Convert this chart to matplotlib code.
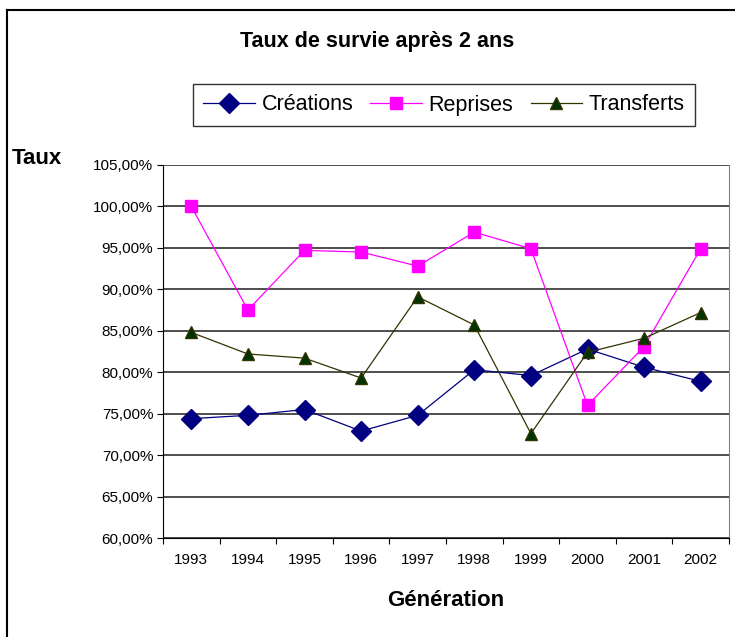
import matplotlib
matplotlib.use("Agg")
import matplotlib.pyplot as plt
from matplotlib.lines import Line2D
from matplotlib.ticker import FuncFormatter, FixedLocator

plt.rcParams['font.family'] = ['Liberation Sans', 'DejaVu Sans']

years = ["1993", "1994", "1995", "1996", "1997", "1998", "1999", "2000", "2001", "2002"]
creations = [74.4, 74.8, 75.5, 72.9, 74.8, 80.3, 79.6, 82.8, 80.6, 78.9]
reprises = [100.0, 87.5, 94.7, 94.5, 92.8, 96.9, 94.9, 76.0, 83.1, 94.9]
transferts = [84.8, 82.2, 81.7, 79.3, 89.1, 85.7, 72.6, 82.4, 84.1, 87.2]

fig = plt.figure(figsize=(7.35, 6.37), dpi=100)
ax = fig.add_axes([163/735, 1-538/637, 566/735, 373/637])

x = list(range(1, len(years) + 1))
ax.plot(x, creations, color="#000080", lw=0.9, marker="D", ms=10,
        mfc="#000080", mec="#000080", label="Créations", zorder=3)
ax.plot(x, reprises, color="#FF00FF", lw=0.9, marker="s", ms=9,
        mfc="#FF00FF", mec="#FF00FF", label="Reprises", zorder=3)
ax.plot(x, transferts, color="#333300", lw=0.9, marker="^", ms=9,
        mfc="#003300", mec="#333300", label="Transferts", zorder=3)

ax.set_xlim(0.5, len(years) + 0.5)
ax.set_ylim(60, 105)
ax.set_yticks([60 + 5*i for i in range(10)])
ax.yaxis.set_major_formatter(FuncFormatter(lambda v, p: ("%.2f%%" % v).replace(".", ",")))
ax.yaxis.grid(True, color="#404040", lw=1.3)
ax.set_axisbelow(True)

ax.xaxis.set_major_locator(FixedLocator([i + 0.5 for i in range(len(years) + 1)]))
ax.xaxis.set_major_formatter(FuncFormatter(lambda v, p: ""))
ax.xaxis.set_minor_locator(FixedLocator(x))
ax.set_xticklabels(years, minor=True)
ax.tick_params(axis="x", which="minor", length=0, pad=11, labelsize=11)
ax.tick_params(axis="x", which="major", length=4, direction="out", color="black")
ax.tick_params(axis="y", length=4, direction="out", labelsize=11, pad=3)

ax.spines["top"].set_visible(False)
ax.spines["right"].set_color("#808080")
ax.spines["left"].set_color("black")
ax.spines["bottom"].set_color("black")

ax.set_xlabel("Génération", fontsize=16, fontweight="bold", labelpad=16)

fig.text(377/735, 1-42/637, "Taux de survie après 2 ans", ha="center", va="center",
         fontsize=15.5, fontweight="bold")
fig.text(12/735, 1-158/637, "Taux", ha="left", va="center",
         fontsize=16, fontweight="bold")

leg = fig.legend(loc="center", bbox_to_anchor=(444/735, 1-105/637), ncol=3,
                 fontsize=15.5, frameon=True, fancybox=False, edgecolor="black",
                 handlelength=2.4, handletextpad=0.3, columnspacing=0.8,
                 borderpad=0.5, markerscale=1.0)
leg.get_frame().set_linewidth(1.0)

fig.add_artist(Line2D([7/735, 7/735], [0, 1-10/637], color="black", lw=1.5,
                      transform=fig.transFigure))
fig.add_artist(Line2D([7/735, 1], [1-10/637, 1-10/637], color="black", lw=1.5,
                      transform=fig.transFigure))

fig.savefig("out.png", dpi=100)
